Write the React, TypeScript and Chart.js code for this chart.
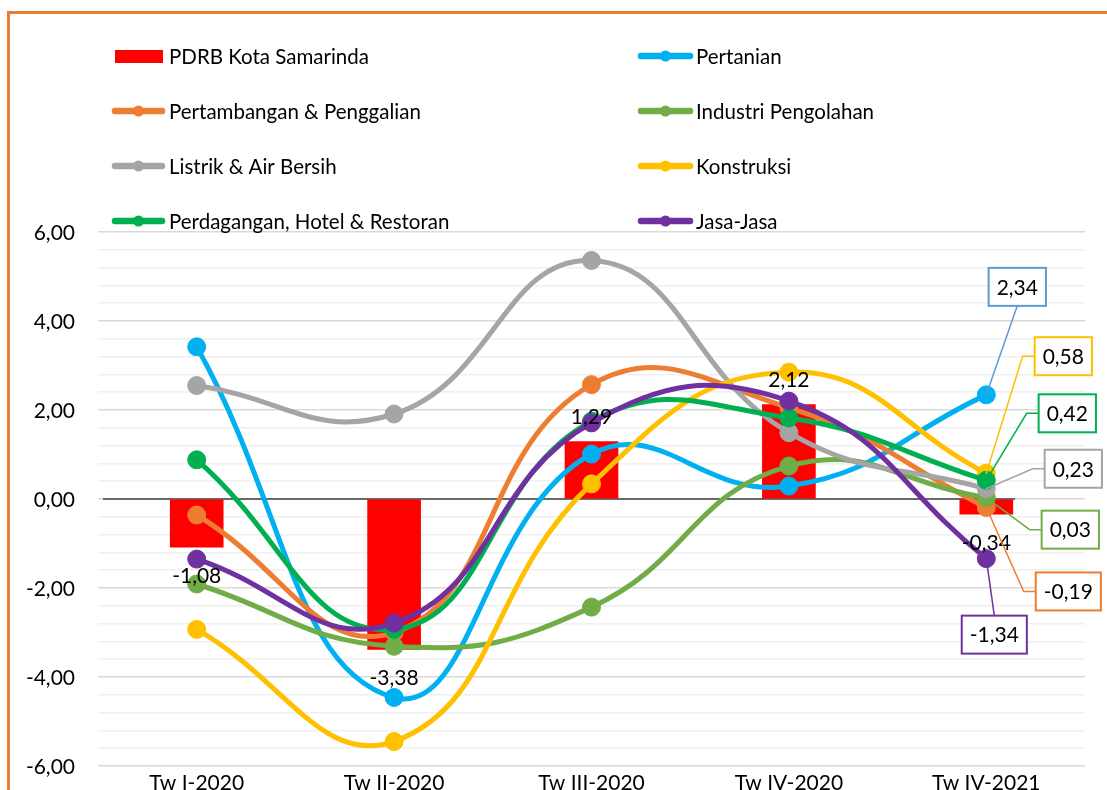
import React, { useEffect, useRef } from "react";
import { Chart, registerables } from "chart.js";
Chart.register(...registerables);

const categories = ["Tw I-2020", "Tw II-2020", "Tw III-2020", "Tw IV-2020", "Tw IV-2021"];
const pdrb = [-1.08, -3.38, 1.29, 2.12, -0.34];
const pertanian = [3.42, -4.46, 1.01, 0.29, 2.34];
const pertambangan = [-0.36, -3.0, 2.57, 2.05, -0.19];
const industri = [-1.91, -3.31, -2.43, 0.74, 0.03];
const listrik = [2.55, 1.91, 5.36, 1.49, 0.23];
const konstruksi = [-2.93, -5.45, 0.34, 2.85, 0.58];
const perdagangan = [0.88, -2.93, 1.75, 1.82, 0.42];
const jasa = [-1.35, -2.79, 1.71, 2.2, -1.34];
const yLabels = [-6, -4, -2, 0, 2, 4, 6];

const seriesNames = [
  "PDRB Kota Samarinda",
  "Pertanian",
  "Pertambangan & Penggalian",
  "Industri Pengolahan",
  "Listrik & Air Bersih",
  "Konstruksi",
  "Perdagangan, Hotel & Restoran",
  "Jasa-Jasa",
];
const seriesColors = ["#FF0000", "#00B0F0", "#ED7D31", "#70AD47", "#A5A5A5", "#FFC000", "#00B050", "#7030A0"];
const lineSeries = [pertanian, pertambangan, industri, listrik, konstruksi, perdagangan, jasa];

const FONT = "Lato, 'Noto Sans', sans-serif";

const fmt = (v: number) => v.toFixed(2).replace(".", ",");

// callout style per dataset index (label of last point)
const callouts: Record<number, { dx: number; dy: number; side: string; border: string }> = {
  1: { dx: 31, dy: -108, side: "bottom", border: "#5B9BD5" },
  5: { dx: 77, dy: -117, side: "left", border: "#FFC000" },
  6: { dx: 81, dy: -67, side: "left", border: "#00B050" },
  4: { dx: 87, dy: -20, side: "left", border: "#A5A5A5" },
  3: { dx: 84, dy: 32, side: "left", border: "#70AD47" },
  2: { dx: 82, dy: 84, side: "left", border: "#ED7D31" },
  7: { dx: 8, dy: 76, side: "top", border: "#7030A0" },
};

const overlay = {
  id: "overlay",
  beforeDraw(chart: any) {
    const ctx = chart.ctx;
    ctx.save();
    ctx.fillStyle = "#ED7D31";
    ctx.fillRect(7, 11, 3, 800);
    ctx.fillRect(7, 11, 1110, 3);
    ctx.restore();
  },
  beforeDatasetsDraw(chart: any) {
    const ctx = chart.ctx;
    const ys = chart.scales.y;
    ctx.save();
    // y tick labels
    ctx.font = `21px ${FONT}`;
    ctx.fillStyle = "#000";
    ctx.textAlign = "right";
    ctx.textBaseline = "middle";
    yLabels.forEach((v) => ctx.fillText(fmt(v), 75, ys.getPixelForValue(v) + 1));
    // zero axis line
    const y = ys.getPixelForValue(0);
    ctx.strokeStyle = "#404040";
    ctx.lineWidth = 1.5;
    ctx.beginPath();
    ctx.moveTo(chart.chartArea.left + 5, y);
    ctx.lineTo(chart.chartArea.right - 70, y);
    ctx.stroke();
    ctx.restore();
  },
  afterDatasetsDraw(chart: any) {
    const ctx = chart.ctx;
    ctx.save();
    // legend
    ctx.font = `20.5px ${FONT}`;
    ctx.textBaseline = "middle";
    ctx.textAlign = "left";
    const rows = [56, 111, 166, 221];
    const cols = [{ sx: 112, ex: 165, tx: 169 }, { sx: 638, ex: 693, tx: 696 }];
    seriesNames.forEach((name, i) => {
      const r = rows[Math.floor(i / 2)];
      const c = cols[i % 2];
      const color = seriesColors[i];
      if (i === 0) {
        ctx.fillStyle = color;
        ctx.fillRect(115, r - 6, 48, 13);
      } else {
        ctx.strokeStyle = color;
        ctx.lineWidth = 6.5;
        ctx.lineCap = "round";
        ctx.beginPath();
        ctx.moveTo(c.sx + 3, r);
        ctx.lineTo(c.ex - 3, r);
        ctx.stroke();
        ctx.fillStyle = color;
        ctx.beginPath();
        ctx.arc((c.sx + c.ex) / 2, r, 5.5, 0, Math.PI * 2);
        ctx.fill();
      }
      ctx.fillStyle = "#000";
      ctx.fillText(name, c.tx, r + 1);
    });

    // bar labels
    ctx.font = `21px ${FONT}`;
    ctx.textAlign = "center";
    ctx.fillStyle = "#000";
    const barMeta = chart.getDatasetMeta(0);
    barMeta.data.forEach((el: any, i: number) => {
      const v = pdrb[i];
      const y = v >= 0 ? el.y - 24 : el.y + 29;
      ctx.fillText(fmt(v), el.x, y);
    });

    // callouts on last point
    Object.keys(callouts).forEach((k) => {
      const di = Number(k);
      const c = callouts[di];
      const el = chart.getDatasetMeta(di).data[4];
      const v = chart.data.datasets[di].data[4];
      const bx = el.x + c.dx;
      const by = el.y + c.dy;
      const text = fmt(v);
      const w = ctx.measureText(text).width + 16;
      const h = 38;
      ctx.strokeStyle = c.border;
      ctx.lineWidth = 1.5;
      ctx.beginPath();
      if (c.side === "left") {
        ctx.moveTo(bx - w / 2, by);
        ctx.lineTo(bx - w / 2 - 12, by);
        ctx.lineTo(el.x, el.y);
      } else if (c.side === "bottom") {
        ctx.moveTo(bx, by + h / 2);
        ctx.lineTo(el.x, el.y);
      } else {
        ctx.moveTo(bx, by - h / 2);
        ctx.lineTo(el.x, el.y);
      }
      ctx.stroke();
      ctx.fillStyle = "#fff";
      ctx.fillRect(bx - w / 2, by - h / 2, w, h);
      ctx.lineWidth = 2;
      ctx.strokeRect(bx - w / 2, by - h / 2, w, h);
      ctx.fillStyle = "#000";
      ctx.fillText(text, bx, by + 1);
    });
    ctx.restore();
  },
};

export default function App() {
  const ref = useRef<HTMLCanvasElement>(null);
  useEffect(() => {
    const datasets: any[] = [
      {
        type: "bar",
        label: seriesNames[0],
        data: pdrb,
        backgroundColor: seriesColors[0],
        barThickness: 53,
        order: 100,
      },
      ...lineSeries.map((d, i) => ({
        type: "line",
        label: seriesNames[i + 1],
        data: d,
        borderColor: seriesColors[i + 1],
        backgroundColor: seriesColors[i + 1],
        borderWidth: 5,
        pointRadius: 9,
        pointBorderWidth: 1,
        pointHoverRadius: 9,
        tension: 0.45,
        fill: false,
        order: 7 - i,
      })),
    ];
    const chart = new Chart(ref.current!, {
      type: "bar",
      data: { labels: categories, datasets },
      options: {
        responsive: false,
        animation: false,
        layout: { padding: { left: 0, top: 232, right: 22, bottom: 0 } },
        plugins: { legend: { display: false }, tooltip: { enabled: false } },
        scales: {
          x: {
            offset: true,
            grid: { display: false, drawTicks: false },
            border: { display: false },
            ticks: { color: "#000", font: { family: FONT, size: 21 }, padding: 5, maxRotation: 0 },
            afterFit: (s: any) => { s.height = 24; },
          },
          y: {
            min: -6,
            max: 6,
            border: { display: false },
            grid: {
              drawTicks: false,
              lineWidth: 1.5,
              color: (c: any) => {
                const v = c.tick.value;
                return Math.abs(v / 2 - Math.round(v / 2)) < 1e-6 ? "#D9D9D9" : "#F0F0F0";
              },
            },
            ticks: { stepSize: 0.4, autoSkip: false, display: false },
            afterFit: (s: any) => { s.width = 98; },
          },
        },
      },
      plugins: [overlay],
    });
    return () => chart.destroy();
  }, []);
  return (
    <div style={{ position: "absolute", left: 0, top: 0, width: 1107, height: 790, background: "#fff" }}>
      <canvas ref={ref} width={1107} height={790} style={{ width: 1107, height: 790, display: "block" }} />
    </div>
  );
}
